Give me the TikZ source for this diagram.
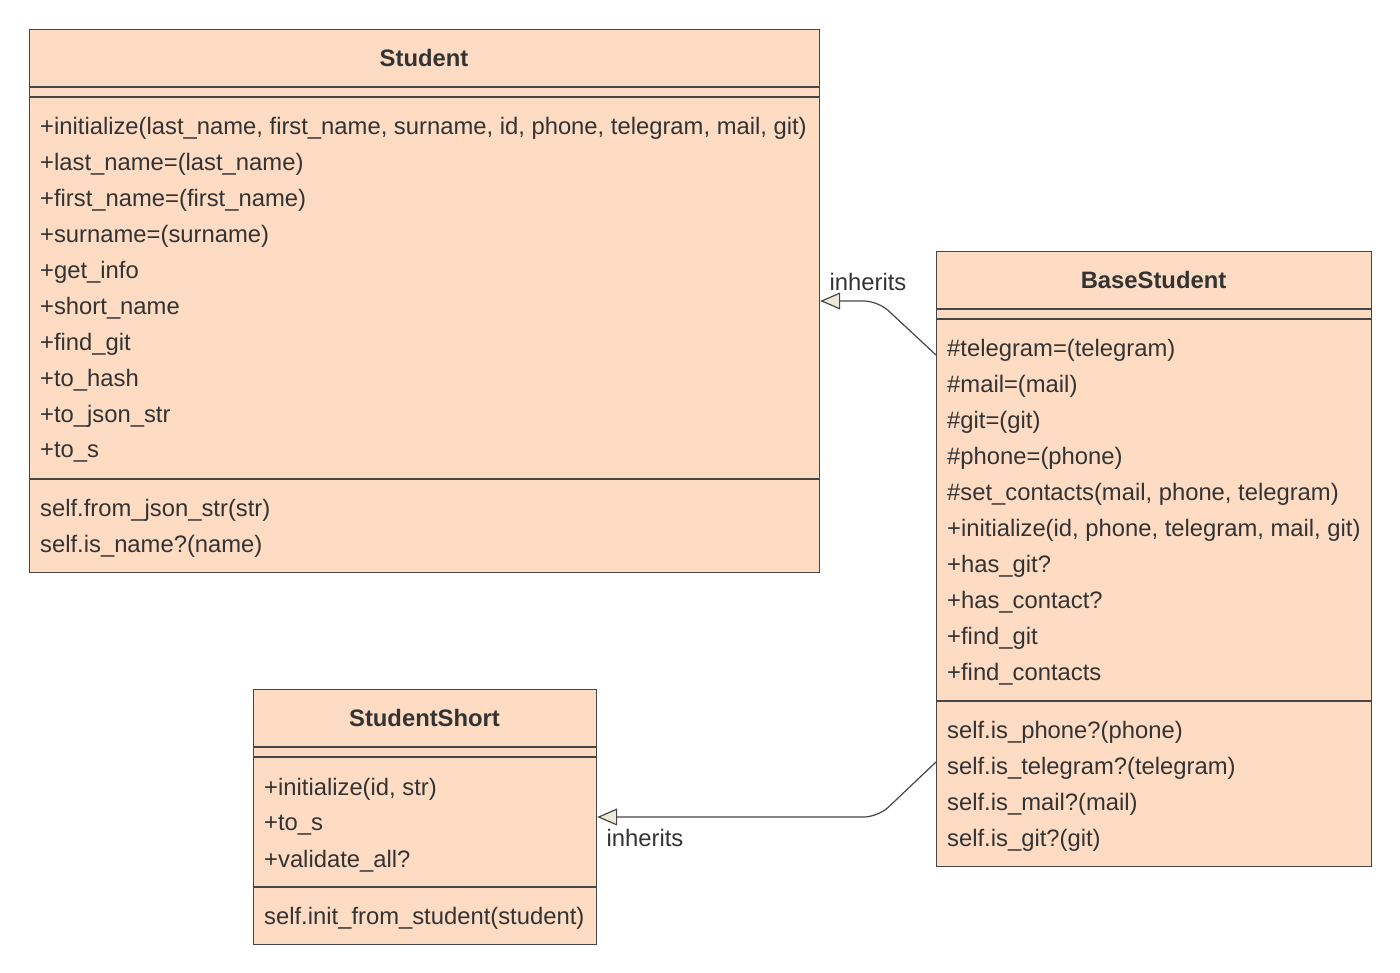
\documentclass[tikz,border=0pt]{standalone}
\usepackage{fontspec}
\setmainfont{Liberation Sans}
\usetikzlibrary{arrows.meta,positioning}
\definecolor{boxfill}{RGB}{254,220,195}
\definecolor{boxline}{RGB}{70,70,70}
\definecolor{txt}{RGB}{51,51,51}
\definecolor{tipfill}{RGB}{236,233,216}
\begin{document}
\begin{tikzpicture}[x=1pt,y=-1pt,
	classbox/.style={draw=boxline, fill=boxfill, line width=1.2pt, anchor=north west, inner sep=0pt},
	divline/.style={draw=boxline, line width=1.2pt},
	member/.style={anchor=west, inner sep=0pt, text=txt, font=\fontsize{23.8}{28}\selectfont},
	classname/.style={member, anchor=center, font=\fontsize{23.8}{28}\selectfont\bfseries},
	inherit/.style={draw=boxline, line width=1.2pt, rounded corners=14pt,
		-{Triangle[fill=tipfill, length=20pt, width=17pt]}}]
	\useasboundingbox (0,0) rectangle (1400,973);
	% Student
	\node[classbox, minimum width=790pt, minimum height=543pt] (student) at (29,29) {};
	\node[classname] (studenttitle) at (424,58) {Student};
	\foreach \dy in {58,68,450} {
		\draw[divline] ([yshift=-\dy pt]student.north west) -- ([yshift=-\dy pt]student.north east);
	}
	\foreach \t [count=\i from 0] in {{+initialize(last\_name, first\_name, surname, id, phone, telegram, mail, git)},
		{+last\_name=(last\_name)}, {+first\_name=(first\_name)}, {+surname=(surname)}, {+get\_info},
		{+short\_name}, {+find\_git}, {+to\_hash}, {+to\_json\_str}, {+to\_s}} {
		\node[member] (sm\i) at (40,128+36*\i) {\t};
	}
	\node[member] (ss0) at (40,510) {self.from\_json\_str(str)};
	\node[member] (ss1) at (40,546) {self.is\_name?(name)};
	% BaseStudent
	\node[classbox, minimum width=435pt, minimum height=615pt] (base) at (936,251) {};
	\node[classname] (basetitle) at (1153.5,280) {BaseStudent};
	\foreach \dy in {58,68,450} {
		\draw[divline] ([yshift=-\dy pt]base.north west) -- ([yshift=-\dy pt]base.north east);
	}
	\foreach \t [count=\i from 0] in {{\#telegram=(telegram)}, {\#mail=(mail)}, {\#git=(git)},
		{\#phone=(phone)}, {\#set\_contacts(mail, phone, telegram)}, {+initialize(id, phone, telegram, mail, git)},
		{+has\_git?}, {+has\_contact?}, {+find\_git}, {+find\_contacts}} {
		\node[member] (bm\i) at (947,350+36*\i) {\t};
	}
	\foreach \t [count=\i from 0] in {{self.is\_phone?(phone)}, {self.is\_telegram?(telegram)},
		{self.is\_mail?(mail)}, {self.is\_git?(git)}} {
		\node[member] (bs\i) at (947,732+36*\i) {\t};
	}
	% StudentShort
	\node[classbox, minimum width=343pt, minimum height=255pt] (short) at (253,689) {};
	\node[classname] (shorttitle) at (424.5,718) {StudentShort};
	\foreach \dy in {58,68,198} {
		\draw[divline] ([yshift=-\dy pt]short.north west) -- ([yshift=-\dy pt]short.north east);
	}
	\foreach \t [count=\i from 0] in {{+initialize(id, str)}, {+to\_s}, {+validate\_all?}} {
		\node[member] (shm\i) at (264,789+36*\i) {\t};
	}
	\node[member] (shs0) at (264,918) {self.init\_from\_student(student)};
	% inheritance
	\coordinate (bend1) at (878,301);
	\coordinate (bend2) at (878,817);
	\draw[inherit] ([yshift=-104pt]base.north west) -- (bend1) -- ([yshift=-272pt]student.north east);
	\draw[inherit] ([yshift=-511pt]base.north west) -- (bend2) -- ([yshift=-128pt]short.north east);
	\node[member, anchor=center] (lab1) at (868,282) {inherits};
	\node[member, anchor=center] (lab2) at (645,838) {inherits};
\end{tikzpicture}
\end{document}
